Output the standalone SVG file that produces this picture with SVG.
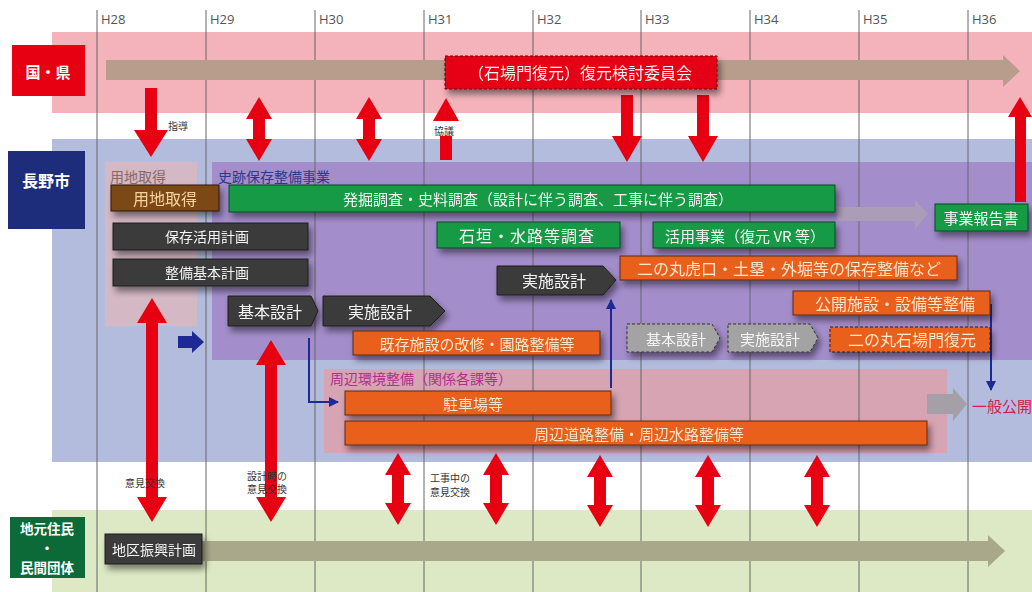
<svg xmlns="http://www.w3.org/2000/svg" width="1032" height="592" viewBox="0 0 1032 592">
<defs>
<filter id="sh" x="-10%" y="-30%" width="130%" height="190%">
<feDropShadow dx="3" dy="5" stdDeviation="3" flood-color="#000" flood-opacity="0.45"/>
</filter>
<marker id="bh" viewBox="0 0 10 10" refX="9" refY="5" markerWidth="5" markerHeight="5" orient="auto" markerUnits="strokeWidth">
<path d="M0,0 L10,5 L0,10 Z" fill="#1d2a96"/>
</marker>
<style>
text{font-family:"Noto Sans CJK JP","Noto Sans",sans-serif;}
.yr{font-family:"Open Sans","Noto Sans",sans-serif;font-size:13px;fill:#555;}
.t{text-anchor:middle;dominant-baseline:central;font-size:15px;}
.wt{fill:#f4f4f4;}
.ot{fill:#fde6cc;}
.dk{fill:#3a3a3a;stroke:#1e1e1e;stroke-width:1;}
.or{fill:#e95f1c;stroke:#5c2a10;stroke-width:1;}
.gr{fill:#189a44;stroke:#0b4a20;stroke-width:1;}
.dg{fill:#a3a3a3;stroke:#333;stroke-width:1;stroke-dasharray:3 2;}
.red{fill:#e60012;}
.grid{stroke:#666;stroke-width:1;}
.bl{fill:none;stroke:#1d2a96;stroke-width:2;}
.sm{font-size:10px;fill:#333;}
.lb{font-weight:bold;fill:#fff;font-size:13.5px;text-anchor:middle;dominant-baseline:central;}
</style>
</defs>

<!-- bands -->
<g id="bands">
<rect x="52" y="32" width="980" height="81" fill="#f4b3bb"/>
<rect x="52" y="139" width="980" height="323" fill="#b4bcde"/>
<rect x="52" y="510" width="980" height="82" fill="#dce9c4"/>
<rect x="105" y="162" width="92" height="164" fill="#d4b8c3"/>
<rect x="212" y="162" width="820" height="198" fill="#a38dcb"/>
<rect x="324" y="369" width="623" height="84" fill="#d6a4b3"/>
</g>

<!-- grid -->
<g id="grid">
<line class="grid" x1="97" y1="10" x2="97" y2="592"/>
<line class="grid" x1="206" y1="10" x2="206" y2="592"/>
<line class="grid" x1="315" y1="10" x2="315" y2="592"/>
<line class="grid" x1="424" y1="10" x2="424" y2="592"/>
<line class="grid" x1="533" y1="10" x2="533" y2="592"/>
<line class="grid" x1="641" y1="10" x2="641" y2="592"/>
<line class="grid" x1="750" y1="10" x2="750" y2="592"/>
<line class="grid" x1="859" y1="10" x2="859" y2="592"/>
<line class="grid" x1="968" y1="10" x2="968" y2="592"/>
<text class="yr" x="101" y="24">H28</text>
<text class="yr" x="210" y="24">H29</text>
<text class="yr" x="319" y="24">H30</text>
<text class="yr" x="428" y="24">H31</text>
<text class="yr" x="537" y="24">H32</text>
<text class="yr" x="645" y="24">H33</text>
<text class="yr" x="754" y="24">H34</text>
<text class="yr" x="863" y="24">H35</text>
<text class="yr" x="972" y="24">H36</text>
</g>

<!-- region labels -->
<g id="label-kuni">
<rect x="12" y="45" width="73" height="51" fill="#e60012"/>
<text class="t" x="48" y="71" style="font-weight:bold;fill:#fff;">国・県</text>
</g>
<g id="label-nagano">
<rect x="8" y="151" width="77" height="78" fill="#1e2c7c"/>
<text class="t" x="46" y="180" style="font-weight:bold;fill:#fff;font-size:16px;">長野市</text>
</g>
<g id="label-jimoto">
<rect x="10" y="517" width="75" height="61" fill="#0c6a38"/>
<text class="lb" x="47" y="527.5">地元住民</text>
<text class="lb" x="47" y="547.3">・</text>
<text class="lb" x="47" y="567">民間団体</text>
</g>

<!-- region titles -->
<g id="region-titles">
<text x="110" y="176" style="font-size:14px;fill:#8a6868;dominant-baseline:central;">用地取得</text>
<text x="218" y="176" style="font-size:14px;fill:#2b3a8e;dominant-baseline:central;">史跡保存整備事業</text>
<text x="330" y="378" style="font-size:14px;fill:#b0308c;dominant-baseline:central;">周辺環境整備（関係各課等）</text>
</g>

<!-- connectors -->
<g id="connectors">
<path d="M106,60 H1003 V55 L1020,71 L1003,87 V80 H106 Z" fill="#b89c8c"/>
<path d="M200,541 H988 V535 L1005,551 L988,567 V561 H200 Z" fill="#a9a88b"/>
<path d="M837,207 H915 V200 L928,214 L915,229 V221 H837 Z" fill="#ab9cb8"/>
<path d="M927,394 H953 V388 L967,404 L953,421 V414 H927 Z" fill="#a59fa8"/>
<path d="M178,336 H192 V331 L204,342 L192,353 V348 H178 Z" fill="#1d2a96"/>
<path class="bl" d="M309,338 V402 H338" marker-end="url(#bh)"/>
<path class="bl" d="M611,388 V300" marker-end="url(#bh)"/>
<path class="bl" d="M991,304 V390" marker-end="url(#bh)"/>
<!-- red arrows upper -->
<path class="red" d="M145,88 H157 V130 H168 L151,157 L134,130 H145 Z"/>
<path class="red" d="M259,97 L272,119 H265 V139 H272 L259,161 L246,139 H253 V119 H246 Z"/>
<path class="red" d="M369,97 L382,119 H375 V139 H382 L369,161 L356,139 H363 V119 H356 Z"/>
<path class="red" d="M446,98 L459,121 H433 Z"/>
<rect class="red" x="440" y="136" width="12" height="24"/>
<path class="red" d="M621,95 H633 V136 H642 L627,162 L612,136 H621 Z"/>
<path class="red" d="M697,95 H709 V136 H718 L703,162 L688,136 H697 Z"/>
<path class="red" d="M1020,97 L1032,117 H1026 V202 H1015 V117 H1008 Z"/>
<!-- red arrows lower -->
<path class="red" d="M152,298 L167,323 H158 V497 H167 L152,522 L137,497 H146 V323 H137 Z"/>
<path class="red" d="M271,340 L286,365 H277 V497 H286 L271,522 L256,497 H265 V365 H256 Z"/>
<path class="red" d="M398,453 L411,475 H404 V503 H411 L398,525 L385,503 H392 V475 H385 Z"/>
<path class="red" d="M496,453 L509,475 H502 V503 H509 L496,525 L483,503 H490 V475 H483 Z"/>
<path class="red" d="M600,455 L613,477 H606 V505 H613 L600,527 L587,505 H594 V477 H587 Z"/>
<path class="red" d="M708,455 L721,477 H714 V505 H721 L708,527 L695,505 H702 V477 H695 Z"/>
<path class="red" d="M817,455 L830,477 H823 V505 H830 L817,527 L804,505 H811 V477 H804 Z"/>
<!-- connector labels -->
<text class="sm" x="168" y="125" style="dominant-baseline:central;">指導</text>
<text class="sm" x="434" y="130" style="dominant-baseline:central;">協議</text>
<text class="sm" x="145" y="482" style="text-anchor:middle;dominant-baseline:central;">意見交換</text>
<text class="sm" x="267" y="475" style="text-anchor:middle;dominant-baseline:central;">設計時の</text>
<text class="sm" x="267" y="488" style="text-anchor:middle;dominant-baseline:central;">意見交換</text>
<text class="sm" x="430" y="477" style="dominant-baseline:central;">工事中の</text>
<text class="sm" x="430" y="491" style="dominant-baseline:central;">意見交換</text>
<text x="972" y="405" style="font-size:15px;fill:#d0204c;dominant-baseline:central;">一般公開</text>
</g>

<!-- nodes -->
<g id="committee" filter="url(#sh)">
<rect x="445" y="56" width="272" height="33" fill="#e60012" stroke="#5a0a0a" stroke-dasharray="3 2"/>
<text class="t wt" x="580" y="72" style="font-size:16px;">（石場門復元）復元検討委員会</text>
</g>
<g id="youchi" filter="url(#sh)">
<rect x="111" y="185" width="108" height="26" fill="#7b4a17" stroke="#2a1a08"/>
<text class="t" x="165" y="198" style="font-size:16px;fill:#f8d3a0;">用地取得</text>
</g>
<g id="hakkutsu" filter="url(#sh)">
<rect class="gr" x="229" y="185" width="606" height="27"/>
<text class="t wt" x="538" y="198">発掘調査・史料調査（設計に伴う調査、工事に伴う調査）</text>
</g>
<g id="houkoku" filter="url(#sh)">
<rect class="gr" x="935" y="204" width="93" height="27"/>
<text class="t wt" x="981" y="217">事業報告書</text>
</g>
<g id="hozon" filter="url(#sh)">
<rect class="dk" x="113" y="223" width="195" height="27"/>
<text class="t wt" x="207" y="236" style="font-size:14px;">保存活用計画</text>
</g>
<g id="kihonkeikaku" filter="url(#sh)">
<rect class="dk" x="113" y="259" width="195" height="27"/>
<text class="t wt" x="207" y="272" style="font-size:14px;">整備基本計画</text>
</g>
<g id="ishigaki" filter="url(#sh)">
<rect class="gr" x="437" y="222" width="183" height="26"/>
<text class="t wt" x="527" y="235" style="font-size:16px;letter-spacing:1px;">石垣・水路等調査</text>
</g>
<g id="katsuyou" filter="url(#sh)">
<rect class="gr" x="653" y="222" width="182" height="26"/>
<text class="t wt" x="745" y="235">活用事業（復元 VR 等）</text>
</g>
<g id="jisshi2" filter="url(#sh)">
<path class="dk" d="M497,266 H603 L616,280 L603,295 H497 Z"/>
<text class="t wt" x="554" y="280" style="font-size:16px;">実施設計</text>
</g>
<g id="ninomaru-hozon" filter="url(#sh)">
<rect class="or" x="620" y="256" width="337" height="24"/>
<text class="t ot" x="789" y="268" style="font-size:16px;">二の丸虎口・土塁・外堀等の保存整備など</text>
</g>
<g id="koukai" filter="url(#sh)">
<rect class="or" x="793" y="291" width="197" height="24"/>
<text class="t ot" x="895" y="303" style="font-size:16px;">公開施設・設備等整備</text>
</g>
<g id="kihon1" filter="url(#sh)">
<path class="dk" d="M228,296 H311 L318,311 L311,326 H228 Z"/>
<text class="t wt" x="270" y="311" style="font-size:16px;">基本設計</text>
</g>
<g id="jisshi1" filter="url(#sh)">
<path class="dk" d="M323,296 H430 L445,311 L430,326 H323 Z"/>
<text class="t wt" x="380" y="311" style="font-size:16px;">実施設計</text>
</g>
<g id="kizon" filter="url(#sh)">
<rect class="or" x="353" y="331" width="247" height="24"/>
<text class="t ot" x="477" y="343">既存施設の改修・園路整備等</text>
</g>
<g id="kihon3" filter="url(#sh)">
<path class="dg" d="M627,324 H712 L720,338 L712,352 H627 Z"/>
<text class="t wt" x="676" y="338">基本設計</text>
</g>
<g id="jisshi3" filter="url(#sh)">
<path class="dg" d="M728,324 H810 L818,338 L810,352 H728 Z"/>
<text class="t wt" x="770" y="338">実施設計</text>
</g>
<g id="ishibamon" filter="url(#sh)">
<rect class="or" x="830" y="327" width="160" height="25" style="stroke-dasharray:3 2;stroke:#3a1a08;"/>
<text class="t ot" x="912" y="339" style="font-size:16px;">二の丸石場門復元</text>
</g>
<g id="chuushajou" filter="url(#sh)">
<rect class="or" x="345" y="391" width="266" height="24"/>
<text class="t ot" x="473" y="403">駐車場等</text>
</g>
<g id="shuuhen" filter="url(#sh)">
<rect class="or" x="345" y="421" width="582" height="24"/>
<text class="t ot" x="639" y="433">周辺道路整備・周辺水路整備等</text>
</g>
<g id="chiku" filter="url(#sh)">
<rect class="dk" x="105" y="534" width="97" height="30"/>
<text class="t wt" x="154" y="549" style="font-size:14px;">地区振興計画</text>
</g>
</svg>
